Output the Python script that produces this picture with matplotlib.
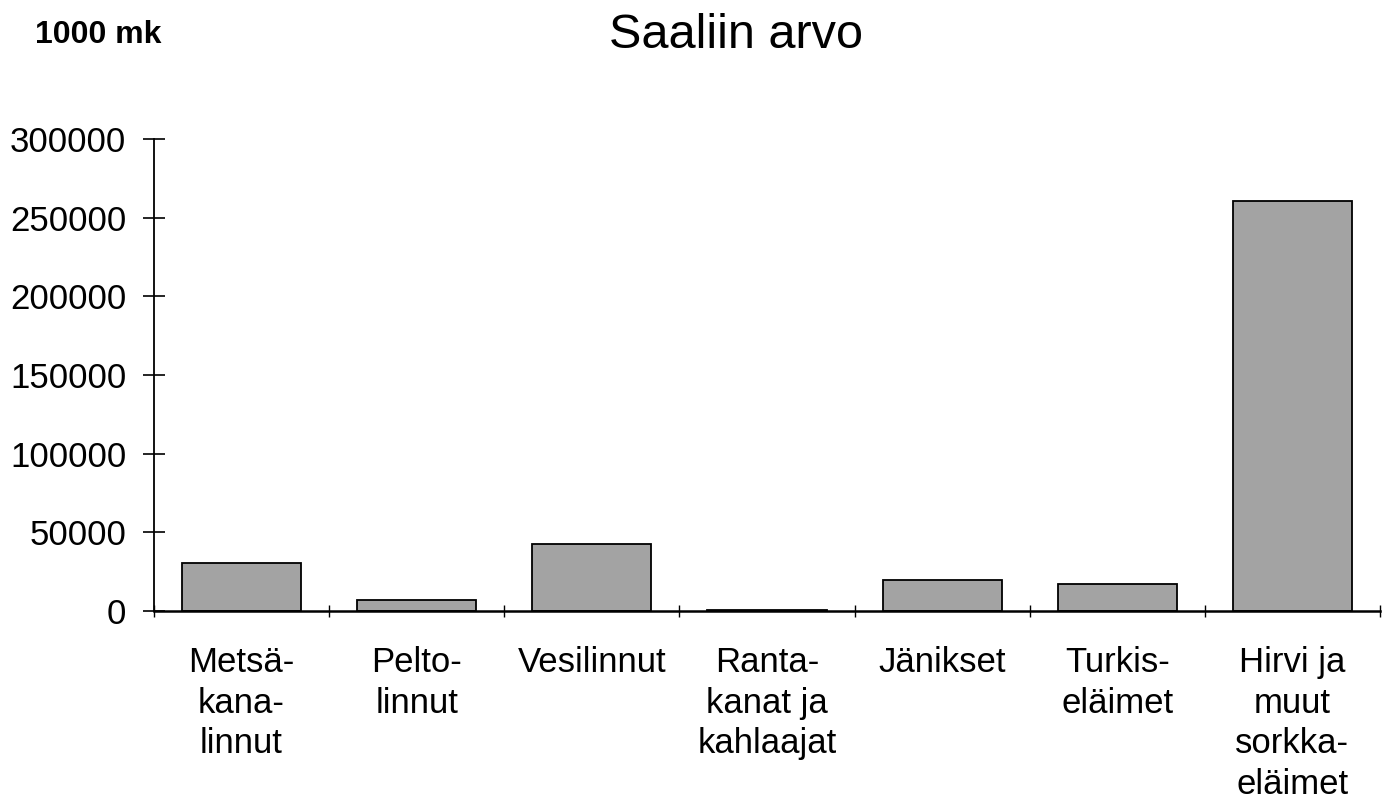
import matplotlib.pyplot as plt
import numpy as np

categories = ["Metsä-\nkana-\nlinnut", "Pelto-\nlinnut", "Vesilinnut",
              "Ranta-\nkanat ja\nkahlaajat", "Jänikset", "Turkis-\neläimet",
              "Hirvi ja\nmuut\nsorkka-\neläimet"]
values = [30500, 7000, 42500, 400, 19700, 17000, 260500]
yticks = [0, 50000, 100000, 150000, 200000, 250000, 300000]

plt.rcParams['font.family'] = ['Liberation Sans', 'DejaVu Sans']

fig = plt.figure(figsize=(13.86, 8.06), dpi=100)
ax = fig.add_axes([0.1111, 0.2419, 0.8846, 0.5856])

x = np.arange(len(categories))
ax.bar(x, values, width=0.68, color='#a3a3a3', edgecolor='black', linewidth=1.3)

ax.set_xlim(-0.5, len(categories) - 0.5)
ax.set_ylim(0, 300000)

ax.set_yticks(yticks)
ax.set_yticklabels([str(v) for v in yticks])
ax.tick_params(axis='y', direction='inout', length=16, width=1.2, pad=12, labelsize=25)

ax.set_xticks(x)
ax.set_xticklabels(categories, linespacing=1.3)
ax.tick_params(axis='x', which='major', length=0, pad=25, labelsize=25)
ax.set_xticks(np.arange(len(categories) + 1) - 0.5, minor=True)
ax.tick_params(axis='x', which='minor', direction='inout', length=8, width=1.0)

for s in ['top', 'right']:
    ax.spines[s].set_visible(False)
ax.spines['left'].set_linewidth(1.3)
ax.spines['bottom'].set_linewidth(1.8)

fig.text(0.531, 0.940, "Saaliin arvo", fontsize=35, ha='center', va='baseline')
fig.text(0.025, 0.947, "1000 mk", fontsize=23, fontweight='bold', ha='left', va='baseline')

fig.savefig('out.png', dpi=100)
